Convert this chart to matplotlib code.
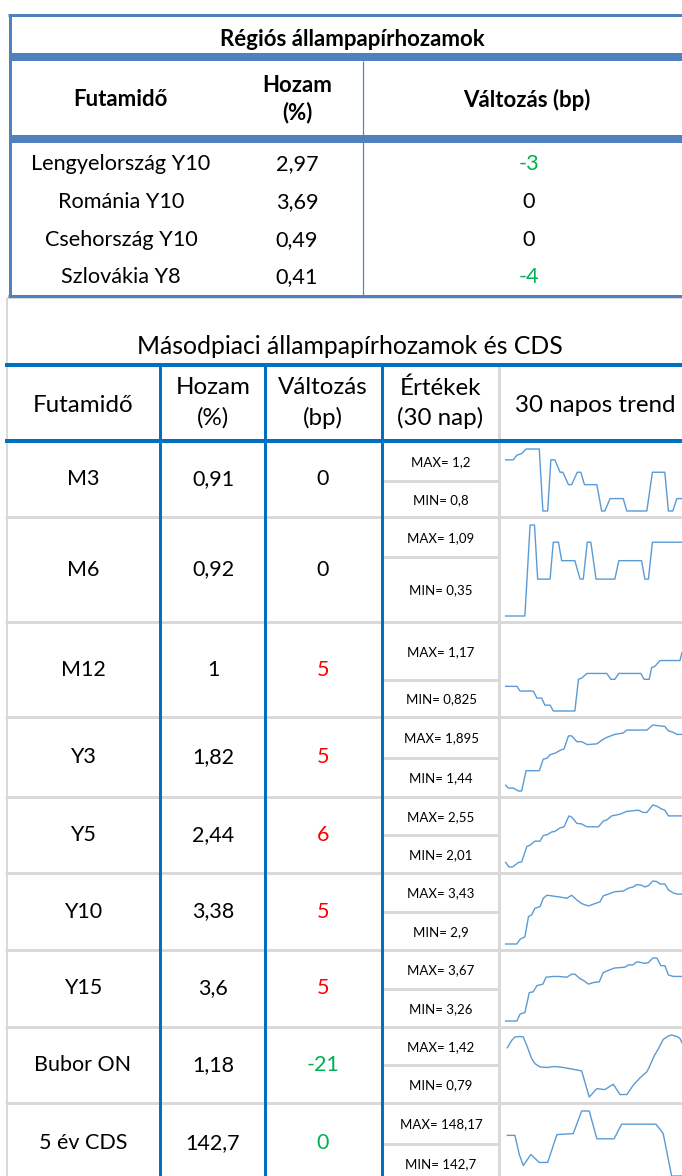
import matplotlib.pyplot as plt

plt.rcParams['font.family'] = ['Lato', 'DejaVu Sans']

# ---- Régiós állampapírhozamok
reg_names = ['Lengyelország Y10', 'Románia Y10', 'Csehország Y10', 'Szlovákia Y8']
reg_yield = ['2,97', '3,69', '0,49', '0,41']
reg_change = [-3, 0, 0, -4]

# ---- Másodpiaci állampapírhozamok és CDS
tenors = ['M3', 'M6', 'M12', 'Y3', 'Y5', 'Y10', 'Y15', 'Bubor ON', '5 év CDS']
yields = ['0,91', '0,92', '1', '1,82', '2,44', '3,38', '3,6', '1,18', '142,7']
changes = [0, 0, 5, 5, 6, 5, 5, -21, 0]
change_dir = [0, 0, 1, 1, 1, 1, 1, -1, -1]   # CDS rounded to 0 but was a drop
max_30 = ['1,2', '1,09', '1,17', '1,895', '2,55', '3,43', '3,67', '1,42', '148,17']
min_30 = ['0,8', '0,35', '0,825', '1,44', '2,01', '2,9', '3,26', '0,79', '142,7']

# 30 day trend (day index, value)
m3_d = [0, 1.9, 2.8, 4.0, 5.1, 8.4, 9.3, 10.5, 11.3, 12.3, 13.6, 14.3, 15.7, 16.5, 17.9, 18.8, 19.7, 22.8, 24.0, 24.8,
        26.1, 29.4, 30.3, 35.3, 36.7, 39.8, 40.7, 41.8, 42.8, 44.1]
m3_v = [1.13, 1.13, 1.16, 1.17, 1.2, 1.2, 0.8, 0.8, 1.13, 1.13, 1.05, 1.05, 0.97, 0.97, 1.05, 1.05, 0.97, 0.97, 0.8, 0.8,
        0.88, 0.88, 0.8, 0.8, 1.05, 1.05, 0.8, 0.8, 0.88, 0.88]
m6_d = [0, 4.8, 6.1, 7.2, 8.0, 11.1, 11.9, 13.2, 14.0, 17.3, 18.6, 19.4, 20.4, 21.3, 22.6, 27.3, 28.3, 34.0, 34.8, 35.7,
        36.7, 44.1]
m6_v = [0.35, 0.35, 1.09, 1.09, 0.65, 0.65, 0.95, 0.95, 0.80, 0.80, 0.65, 0.65, 0.95, 0.95, 0.65, 0.65, 0.80, 0.80, 0.65,
        0.65, 0.95, 0.95]
m12_d = [0, 2.8, 3.6, 6.9, 7.8, 9.0, 9.8, 11.1, 11.9, 17.3, 18.2, 19.0, 20.3, 25.3, 26.3, 27.3, 28.3, 33.8, 34.6, 35.9,
         36.5, 37.3, 38.6, 43.6, 44.1]
m12_v = [0.93, 0.93, 0.91, 0.91, 0.88, 0.88, 0.85, 0.85, 0.825, 0.825, 0.96, 0.965, 0.985, 0.985, 0.96, 0.96, 0.985, 0.985,
         0.96, 0.96, 1.01, 1.015, 1.04, 1.04, 1.075]
y3_d = [0, 0.7, 1.9, 3.2, 4.0, 5.1, 8.4, 9.4, 10.3, 11.1, 12.3, 13.6, 14.6, 15.7, 16.5, 17.8, 19.0, 20.4, 22.8, 24.0,
        25.3, 27.3, 29.4, 30.3, 35.3, 36.8, 38.2, 39.8, 40.7, 41.9, 42.8, 44.1]
y3_v = [1.48, 1.46, 1.46, 1.44, 1.44, 1.58, 1.58, 1.66, 1.665, 1.69, 1.70, 1.72, 1.73, 1.82, 1.82, 1.78, 1.78, 1.76, 1.765,
        1.79, 1.81, 1.83, 1.84, 1.86, 1.86, 1.895, 1.89, 1.885, 1.855, 1.845, 1.83, 1.83]
y5_d = [0, 0.8, 1.7, 3.2, 4.0, 5.3, 6.1, 7.3, 8.6, 9.4, 10.3, 11.5, 12.3, 13.6, 14.6, 15.8, 16.5, 17.8, 19.0, 20.3,
        23.2, 24.4, 25.3, 26.5, 28.6, 30.3, 31.9, 33.2, 34.4, 35.3, 36.8, 37.8, 39.0, 39.8, 40.7, 44.1]
y5_v = [2.05, 2.01, 2.01, 2.05, 2.055, 2.19, 2.20, 2.235, 2.235, 2.285, 2.29, 2.315, 2.32, 2.35, 2.36, 2.455, 2.445, 2.39,
        2.385, 2.36, 2.36, 2.41, 2.42, 2.455, 2.47, 2.495, 2.50, 2.505, 2.485, 2.485, 2.55, 2.54, 2.515, 2.505, 2.455, 2.455]
y10_d = [0, 2.8, 3.6, 4.8, 5.7, 6.5, 7.3, 8.6, 9.4, 10.3, 11.5, 13.6, 15.3, 16.5, 17.8, 19.0, 20.7, 21.9, 23.6, 24.4,
         25.7, 27.3, 29.4, 30.7, 31.9, 32.8, 34.0, 34.8, 35.7, 36.8, 37.8, 38.6, 39.8, 40.7, 41.9, 42.8, 44.1]
y10_v = [2.90, 2.90, 2.94, 2.96, 3.13, 3.145, 3.20, 3.215, 3.285, 3.31, 3.305, 3.295, 3.285, 3.31, 3.27, 3.24, 3.22, 3.235,
         3.255, 3.305, 3.32, 3.34, 3.345, 3.37, 3.38, 3.40, 3.395, 3.38, 3.39, 3.43, 3.425, 3.405, 3.405, 3.355, 3.33,
         3.32, 3.32]
y15_d = [0, 2.8, 3.6, 4.8, 5.9, 6.9, 7.8, 9.3, 10.1, 11.9, 13.2, 15.3, 16.5, 17.3, 18.6, 19.4, 20.7, 21.9, 23.4, 24.4,
         25.7, 27.3, 29.8, 30.7, 31.8, 32.8, 34.0, 34.8, 35.7, 36.8, 37.8, 38.8, 39.8, 40.7, 41.9, 44.1]
y15_v = [3.26, 3.26, 3.305, 3.315, 3.445, 3.45, 3.49, 3.50, 3.545, 3.55, 3.55, 3.545, 3.565, 3.565, 3.535, 3.525, 3.50,
         3.51, 3.515, 3.575, 3.59, 3.605, 3.61, 3.625, 3.625, 3.645, 3.64, 3.635, 3.64, 3.67, 3.67, 3.62, 3.62, 3.56,
         3.55, 3.55]
bubor_d = [0.4, 1.5, 2.3, 3.6, 4.4, 5.4, 6.5, 7.3, 8.6, 10.3, 12.3, 14.4, 16.5, 19.0, 20.9, 22.8, 24.8, 26.9, 28.6, 30.3,
           31.9, 33.6, 35.3, 36.1, 37.1, 38.2, 39.4, 40.7, 41.5, 42.8, 43.6, 44.1]
bubor_v = [1.29, 1.365, 1.40, 1.405, 1.40, 1.30, 1.18, 1.13, 1.095, 1.09, 1.10, 1.09, 1.075, 1.055, 0.79, 0.875, 0.865,
           0.92, 0.815, 0.815, 0.91, 0.985, 1.045, 1.11, 1.205, 1.28, 1.375, 1.41, 1.42, 1.405, 1.385, 1.34]
cds_d = [0.4, 2.3, 3.4, 4.4, 6.3, 8.4, 10.5, 12.8, 16.9, 19.0, 20.9, 22.8, 27.1, 29.0, 37.6, 39.4, 41.5, 44.1]
cds_v = [146.12, 146.12, 144.51, 143.58, 144.51, 143.84, 143.84, 146.18, 146.27, 148.17, 148.17, 145.83, 145.83, 147.06,
         147.06, 146.27, 142.70, 142.70]

trend_days = [m3_d, m6_d, m12_d, y3_d, y5_d, y10_d, y15_d, bubor_d, cds_d]
trend_vals = [m3_v, m6_v, m12_v, y3_v, y5_v, y10_v, y15_v, bubor_v, cds_v]

# ---------------------------------------------------------------- layout
W, H = 682, 1176
BLUE1 = '#4F81BD'
BLUE2 = '#0070C0'
GRAY = '#D9D9D9'
GREEN = '#00B050'
RED = '#FF0000'
SPARK = '#5B9BD5'

fig = plt.figure(figsize=(W / 100, H / 100), dpi=100)
ax = fig.add_axes([0, 0, 1, 1])
ax.set_xlim(0, W)
ax.set_ylim(H, 0)
ax.axis('off')


def lw(px):
    return px * 0.72


def hline(y, x0, x1, c, w):
    ax.plot([x0, x1], [y, y], color=c, lw=lw(w), solid_capstyle='butt')


def vline(x, y0, y1, c, w):
    ax.plot([x, x], [y0, y1], color=c, lw=lw(w), solid_capstyle='butt')


def txt(x, y, s, size, color='black', weight='normal'):
    ax.text(x, y, s, ha='center', va='center', fontsize=size, color=color, fontweight=weight)


def chg_color(d):
    return GREEN if d < 0 else (RED if d > 0 else 'black')


# ---- top table
hline(298, 7, W, GRAY, 2)
vline(363, 61, 296, BLUE1, 1.2)
hline(15, 8, W, BLUE1, 3)
hline(296, 8, W, BLUE1, 3)
vline(9.5, 14, 297, BLUE1, 3)
hline(57, 9, W, BLUE1, 8)
hline(139, 9, W, BLUE1, 8)

txt(352, 40, 'Régiós állampapírhozamok', 16, weight='bold')
txt(120, 100, 'Futamidő', 16, weight='bold')
txt(297, 85, 'Hozam', 16, weight='bold')
txt(297, 113, '(%)', 16, weight='bold')
txt(527, 100, 'Változás (bp)', 16, weight='bold')

reg_y = [164, 202, 240, 277]
for i, name in enumerate(reg_names):
    txt(121, reg_y[i], name, 15.6)
    txt(297, reg_y[i], reg_yield[i], 15.6)
    txt(529, reg_y[i], str(reg_change[i]), 15.6, color=chg_color(reg_change[i]))

# ---- bottom table
row_edges = [441, 517, 622, 717, 797, 873, 950, 1027, 1103, 1182]
sub_edges = [481, 557, 680, 758, 835, 912, 989, 1065, 1144]

vline(7, 298, H, GRAY, 2)
for y in row_edges[1:-1]:
    hline(y, 5, W, GRAY, 3)
for y in sub_edges:
    hline(y, 382, 499, GRAY, 3)
vline(499, 365, H, GRAY, 3)
for x in [160, 265, 382]:
    vline(x, 365, H, BLUE2, 3)
hline(365, 5, W, BLUE2, 4)
hline(441, 5, W, BLUE2, 4)

txt(350, 347, 'Másodpiaci állampapírhozamok és CDS', 17.8)
txt(83, 405, 'Futamidő', 17.4)
txt(213, 388, 'Hozam', 17.4)
txt(213, 418, '(%)', 17.4)
txt(323, 388, 'Változás', 17.4)
txt(323, 418, '(bp)', 17.4)
txt(440, 388, 'Értékek', 17.4)
txt(440, 418, '(30 nap)', 17.4)
txt(595, 405, '30 napos trend', 17.4)

for i, t in enumerate(tenors):
    top, bot = row_edges[i], row_edges[i + 1]
    mid = sub_edges[i]
    yc = (top + bot) / 2 if i < len(tenors) - 1 else 1143
    txt(83, yc, t, 15.5)
    txt(213, yc, yields[i], 15.5)
    txt(323, yc, str(changes[i]), 15.5, color=chg_color(change_dir[i]))
    txt(441, (top + mid) / 2 + 1, 'MAX= ' + max_30[i], 9.5)
    txt(441, (mid + bot) / 2 + 1, 'MIN= ' + min_30[i], 9.5)

    # sparkline
    y_hi, y_lo = top + 8, bot - 6
    x0, x1 = 505.7, 682
    sax = fig.add_axes([x0 / W, 1 - y_lo / H, (x1 - x0) / W, (y_lo - y_hi) / H])
    sax.axis('off')
    lo = float(min_30[i].replace(',', '.'))
    hi = float(max_30[i].replace(',', '.'))
    sax.set_ylim(lo, hi)
    sax.set_xlim(0, 44.1)
    sax.plot(trend_days[i], trend_vals[i], color=SPARK, lw=1.0, clip_on=False)

fig.savefig('out.png', dpi=100)
